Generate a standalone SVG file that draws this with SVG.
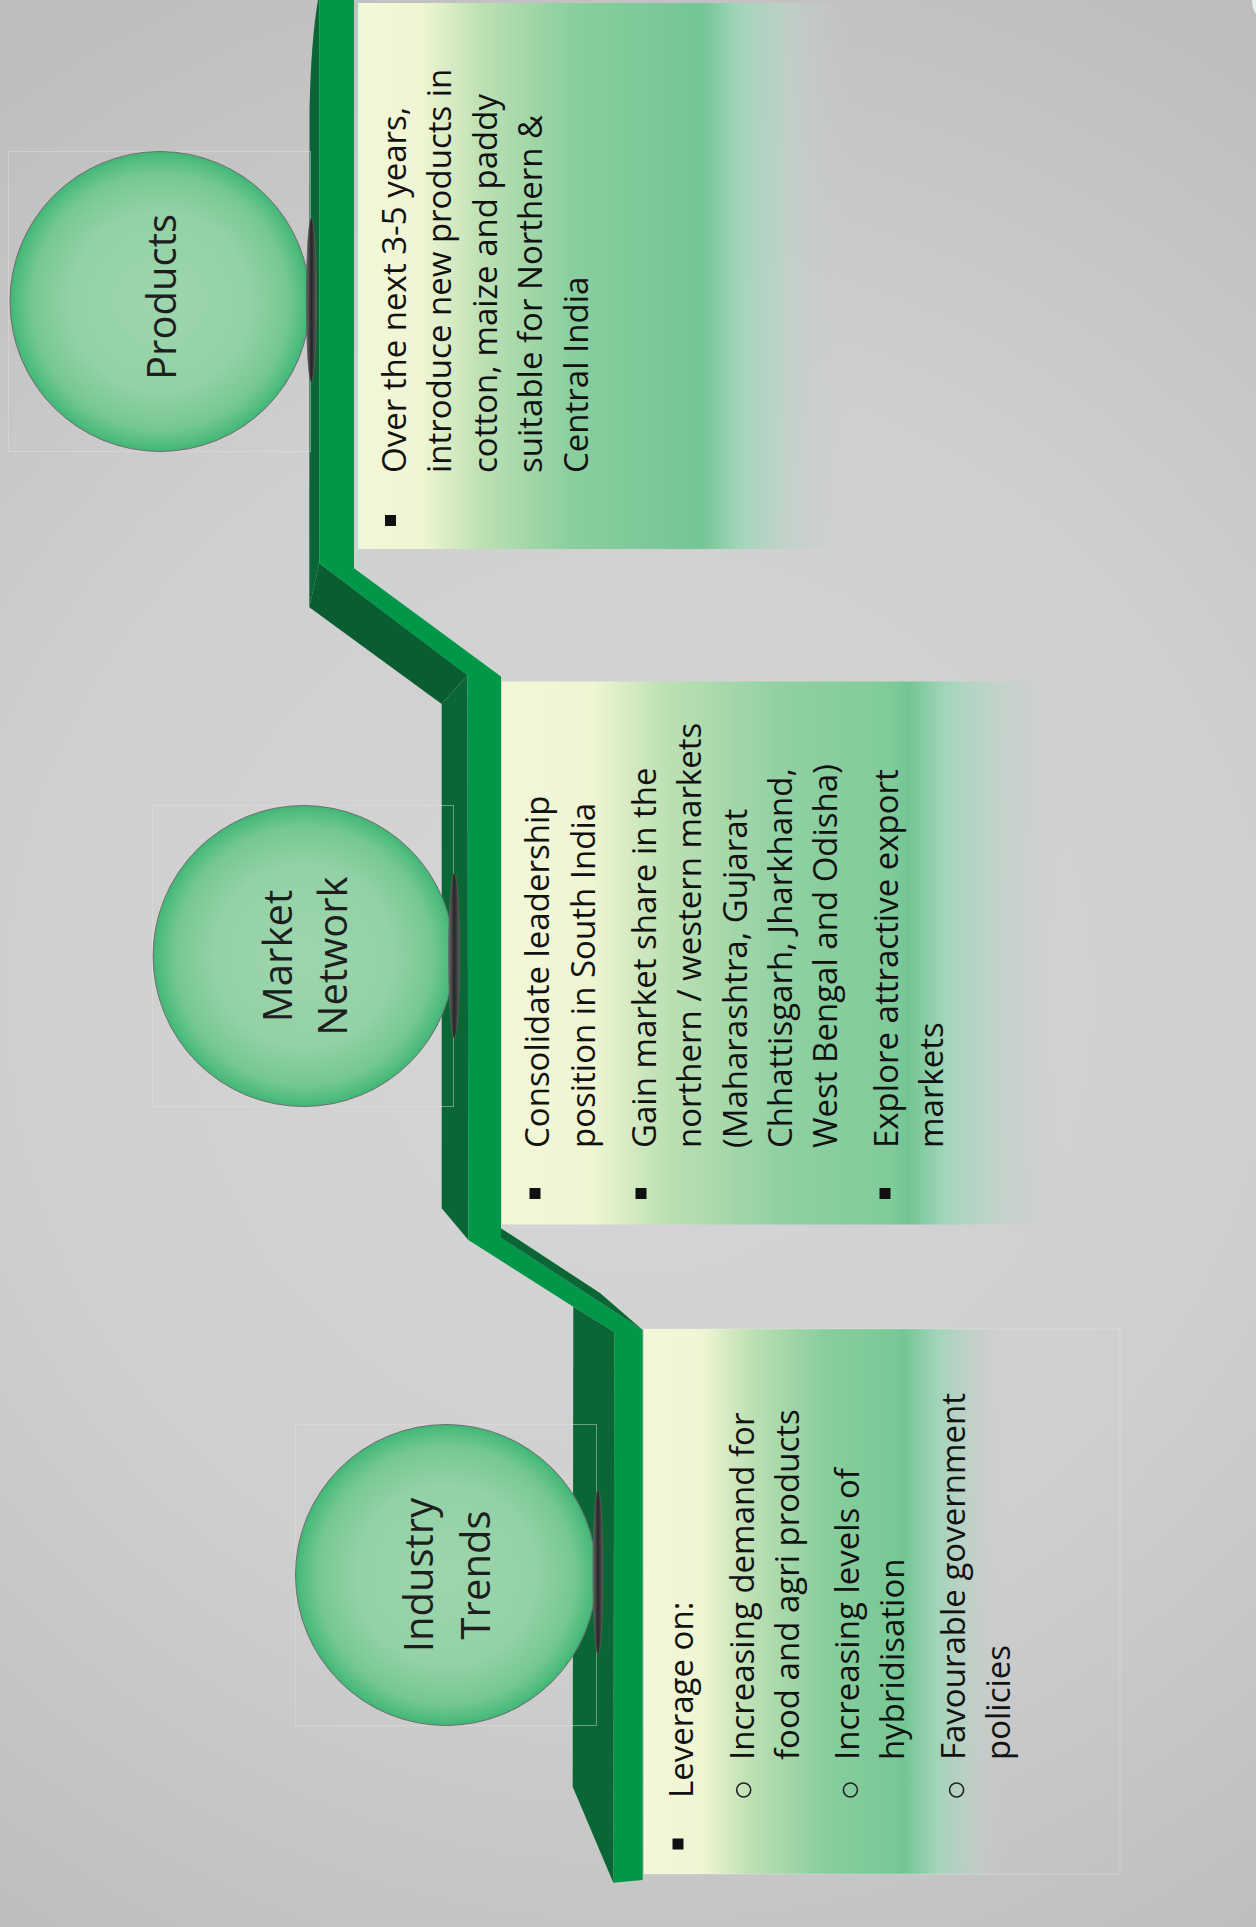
<svg xmlns="http://www.w3.org/2000/svg" width="1256" height="1927" viewBox="0 0 1256 1927">
<defs>
<style>
.t{font-family:'Open Sans','Liberation Sans',sans-serif;font-size:33px;fill:#121212;}
.h{font-family:'Open Sans','Liberation Sans',sans-serif;font-size:40px;fill:#1e1e1e;text-anchor:middle;}
.bright{fill:#009848;}
.dark{fill:#0B6636;}
.darker{fill:#0A5D31;}
.pin{fill:url(#pinG);stroke:#5a5a5a;stroke-width:0.8;}
.ball{fill:url(#ballG);stroke:#6e6e6e;stroke-width:1;}
.frame{fill:none;stroke:#e2e2e2;stroke-width:1;opacity:0.45;}
.sq{fill:#111;}
.ring{fill:none;stroke:#222;stroke-width:1.6;}
</style>
<radialGradient id="bgG" cx="640" cy="1000" r="1150" gradientUnits="userSpaceOnUse">
<stop offset="0" stop-color="#D6D6D6"/>
<stop offset="0.55" stop-color="#CFCFCF"/>
<stop offset="1" stop-color="#BDBDBD"/>
</radialGradient>
<radialGradient id="ballG" cx="0.5" cy="0.5" r="0.5">
<stop offset="0" stop-color="#9DD6AE"/>
<stop offset="0.6" stop-color="#93D1A6"/>
<stop offset="0.85" stop-color="#76C893"/>
<stop offset="0.97" stop-color="#4DBB7E"/>
<stop offset="1" stop-color="#40B574"/>
</radialGradient>
<linearGradient id="pinG" x1="0" y1="0" x2="1" y2="0">
<stop offset="0" stop-color="#6a6a6a"/>
<stop offset="0.5" stop-color="#262626"/>
<stop offset="1" stop-color="#5a5a5a"/>
</linearGradient>
<linearGradient id="gP" gradientUnits="userSpaceOnUse" x1="358" y1="0" x2="870" y2="0">
<stop offset="0" stop-color="#F2F7D7"/>
<stop offset="0.121" stop-color="#F0F6D4"/>
<stop offset="0.244" stop-color="#BCE0B3"/>
<stop offset="0.422" stop-color="#89CE9E"/>
<stop offset="0.629" stop-color="#78C797"/>
<stop offset="0.668" stop-color="#72C594"/>
<stop offset="0.746" stop-color="#A2D6BA"/>
<stop offset="0.844" stop-color="#BED3C8" stop-opacity="0.7"/>
<stop offset="0.96" stop-color="#C8CCCB" stop-opacity="0"/>
</linearGradient>
<linearGradient id="gM" gradientUnits="userSpaceOnUse" x1="501" y1="0" x2="1060" y2="0">
<stop offset="0" stop-color="#F2F7D7"/>
<stop offset="0.161" stop-color="#F0F6D4"/>
<stop offset="0.288" stop-color="#BFE1B5"/>
<stop offset="0.503" stop-color="#90D0A3"/>
<stop offset="0.698" stop-color="#80CB9A"/>
<stop offset="0.728" stop-color="#73C594"/>
<stop offset="0.796" stop-color="#A3D6BA"/>
<stop offset="0.893" stop-color="#BED3C8" stop-opacity="0.7"/>
<stop offset="1" stop-color="#C8CCCB" stop-opacity="0"/>
</linearGradient>
<linearGradient id="gI" gradientUnits="userSpaceOnUse" x1="644" y1="0" x2="1010" y2="0">
<stop offset="0" stop-color="#F2F7D7"/>
<stop offset="0.156" stop-color="#F0F6D4"/>
<stop offset="0.29" stop-color="#BEE0B4"/>
<stop offset="0.489" stop-color="#8ACE9F"/>
<stop offset="0.686" stop-color="#79C897"/>
<stop offset="0.71" stop-color="#73C594"/>
<stop offset="0.798" stop-color="#A1D5B9"/>
<stop offset="0.899" stop-color="#BCD1C6" stop-opacity="0.7"/>
<stop offset="0.986" stop-color="#C8CCCB" stop-opacity="0"/>
</linearGradient>
</defs>

<rect x="0" y="0" width="1256" height="1927" fill="url(#bgG)"/>
<path d="M1252,0 L1256,0 L1256,14 Q1252,8 1252,0 Z" fill="#E4F2EE"/>

<!-- connectors: the 3D ribbon -->
<g id="connectors">
<path class="dark" d="M318,0 Q311,40 309.5,110 L309.3,607.3 L319.3,563.3 L319.3,0 Z"/>
<path class="darker" d="M309.3,607.3 L441.7,704 L467.5,675 L319.3,563.3 Z"/>
<path class="dark" d="M441.7,704 L441.7,1208.3 L468.3,1240 L467.5,675 Z"/>
<path class="bright" d="M319.3,0 L354,0 L354,568.3 L501,676.4 L501,1238 L642.7,1330 L642.7,1880 L613.3,1882.7 L614.3,1331.7 L573.3,1306.7 L468.3,1240 L467.5,675.5 L319.3,563.3 Z"/>
<path class="dark" d="M501,1228.3 L600,1293 L642.7,1330 L501,1238 Z"/>
<path class="dark" d="M573.3,1306.7 L614.3,1331.7 L613.3,1882.7 L572.7,1786.7 Z"/>
</g>

<!-- text boxes -->
<g id="box-products">
<rect x="358" y="3" width="512" height="546" fill="url(#gP)"/>
<rect class="sq" x="385" y="515" width="11" height="11"/>
<g transform="translate(0,473) rotate(-90)">
<text class="t" x="0" y="405.5">Over the next 3-5 years,</text>
<text class="t" x="0" y="451">introduce new products in</text>
<text class="t" x="0" y="496.5">cotton, maize and paddy</text>
<text class="t" x="0" y="542">suitable for Northern &amp;</text>
<text class="t" x="0" y="587.5">Central India</text>
</g>
</g>

<g id="box-market">
<rect x="502" y="681.5" width="558" height="543" fill="url(#gM)"/>
<rect class="sq" x="529.5" y="1188" width="11" height="11"/>
<rect class="sq" x="635.5" y="1188" width="11" height="11"/>
<rect class="sq" x="879.5" y="1188" width="11" height="11"/>
<g transform="translate(0,1148) rotate(-90)">
<text class="t" x="0" y="549">Consolidate leadership</text>
<text class="t" x="0" y="595">position in South India</text>
<text class="t" x="0" y="656">Gain market share in the</text>
<text class="t" x="0" y="701">northern / western markets</text>
<text class="t" x="0" y="747">(Maharashtra, Gujarat</text>
<text class="t" x="0" y="792">Chhattisgarh, Jharkhand,</text>
<text class="t" x="0" y="837">West Bengal and Odisha)</text>
<text class="t" x="0" y="898">Explore attractive export</text>
<text class="t" x="0" y="943">markets</text>
</g>
</g>

<g id="box-industry">
<rect x="644" y="1329" width="476" height="545" fill="url(#gI)" stroke="#FFFFFF" stroke-opacity="0.22" stroke-width="1"/>
<rect class="sq" x="672.5" y="1838.5" width="11" height="11"/>
<circle class="ring" cx="743.7" cy="1790" r="7"/>
<circle class="ring" cx="850.4" cy="1790" r="7"/>
<circle class="ring" cx="956.6" cy="1790" r="7"/>
<text class="t" transform="translate(0,1798) rotate(-90)" x="0" y="693">Leverage on:</text>
<g transform="translate(0,1760) rotate(-90)">
<text class="t" x="0" y="754">Increasing demand for</text>
<text class="t" x="0" y="798.5">food and agri products</text>
<text class="t" x="0" y="859">Increasing levels of</text>
<text class="t" x="0" y="903.5">hybridisation</text>
<text class="t" x="0" y="965">Favourable government</text>
<text class="t" x="0" y="1010">policies</text>
</g>
</g>

<!-- circle nodes -->
<g id="node-products">
<rect class="frame" x="8.5" y="151.5" width="302" height="300"/>
<circle class="ball" cx="160" cy="301.5" r="150"/>
<ellipse class="pin" cx="311.4" cy="300" rx="5" ry="82"/>
<text class="h" transform="translate(160,297) rotate(-90)" x="0" y="15.5">Products</text>
</g>

<g id="node-market">
<rect class="frame" x="152.5" y="805.5" width="301" height="301"/>
<circle class="ball" cx="303.6" cy="956" r="150.5"/>
<ellipse class="pin" cx="454.2" cy="955.5" rx="5.5" ry="82.5"/>
<g transform="translate(303.6,956) rotate(-90)">
<text class="h" x="0" y="-12">Market</text>
<text class="h" x="0" y="43">Network</text>
</g>
</g>

<g id="node-industry">
<rect class="frame" x="295.5" y="1424.5" width="301" height="301"/>
<circle class="ball" cx="446" cy="1575" r="150.5"/>
<ellipse class="pin" cx="598" cy="1572" rx="5" ry="82"/>
<g transform="translate(446,1575) rotate(-90)">
<text class="h" x="0" y="-12.7">Industry</text>
<text class="h" x="0" y="44">Trends</text>
</g>
</g>
</svg>
